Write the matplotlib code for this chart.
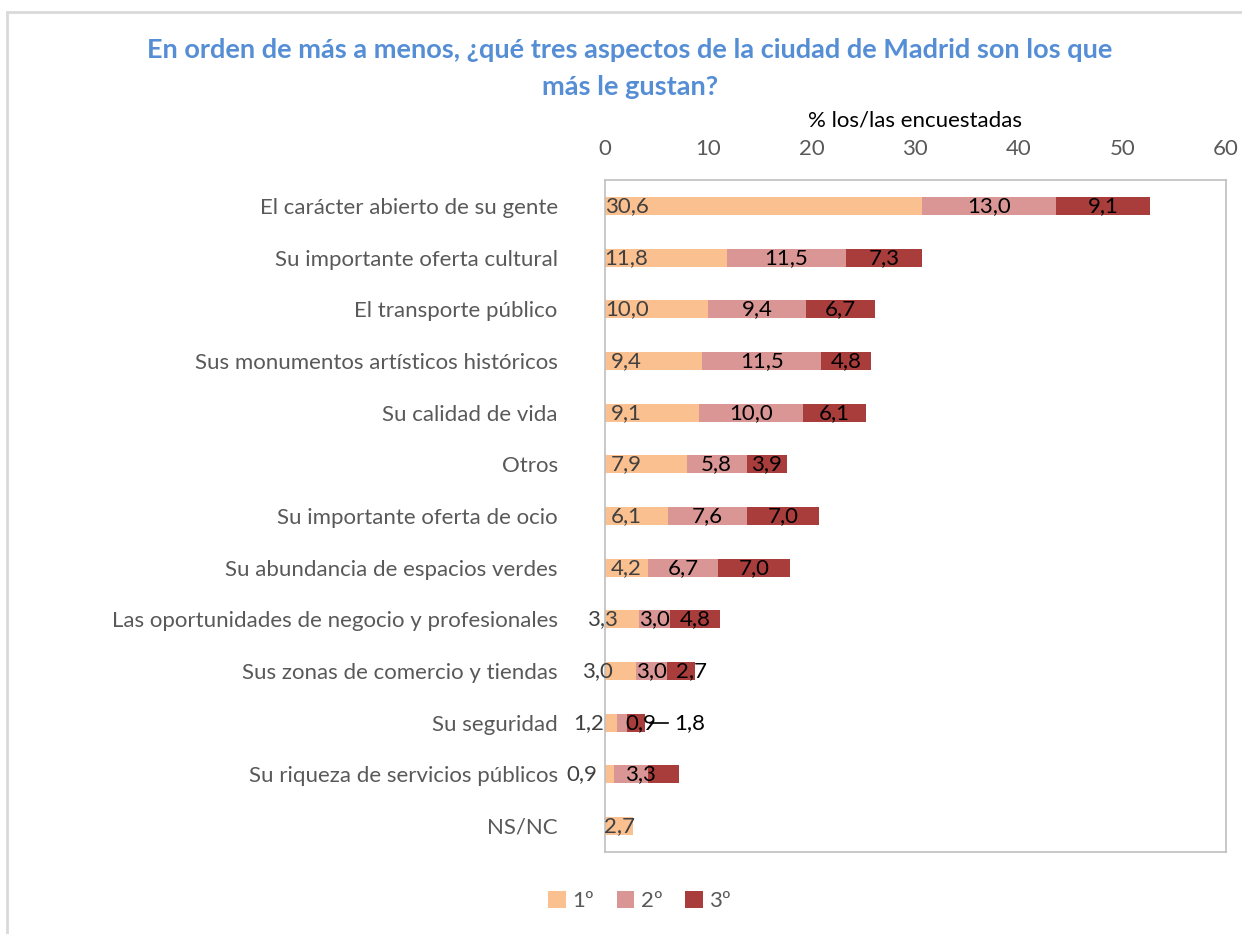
import numpy as np
import matplotlib.pyplot as plt
from matplotlib.patches import Rectangle

plt.rcParams['font.family'] = ['Lato', 'DejaVu Sans']

# Data
categories = [
    "El carácter abierto de su gente",
    "Su importante oferta cultural",
    "El transporte público",
    "Sus monumentos artísticos históricos",
    "Su calidad de vida",
    "Otros",
    "Su importante oferta de ocio",
    "Su abundancia de espacios verdes",
    "Las oportunidades de negocio y profesionales",
    "Sus zonas de comercio y tiendas",
    "Su seguridad",
    "Su riqueza de servicios públicos",
    "NS/NC",
]
first = [30.6, 11.8, 10.0, 9.4, 9.1, 7.9, 6.1, 4.2, 3.3, 3.0, 1.2, 0.9, 2.7]
second = [13.0, 11.5, 9.4, 11.5, 10.0, 5.8, 7.6, 6.7, 3.0, 3.0, 0.9, 3.3, 0.0]
third = [9.1, 7.3, 6.7, 4.8, 6.1, 3.9, 7.0, 7.0, 4.8, 2.7, 1.8, 3.0, 0.0]
series_names = ["1º", "2º", "3º"]
colors = ["#FAC090", "#D99694", "#A93D3B"]

fig = plt.figure(figsize=(12.42, 9.34), dpi=100)
ax = fig.add_axes([0.487, 0.088, 0.5, 0.719])

# outer chart frame
fig.patches.append(Rectangle((7 / 1242, -0.01), 1.1, 1 - 12 / 934 + 0.01,
                             transform=fig.transFigure, fill=False,
                             edgecolor="#D9D9D9", linewidth=2))

y = np.arange(len(categories))
first = np.array(first)
second = np.array(second)
third = np.array(third)
h = 0.35
ax.barh(y, first, height=h, color=colors[0], label=series_names[0])
ax.barh(y, second, left=first, height=h, color=colors[1], label=series_names[1])
ax.barh(y, third, left=first + second, height=h, color=colors[2], label=series_names[2])

fs = 16
fmt = lambda v: f"{v:.1f}".replace(".", ",")

# labels of first series (small ones are pushed left like in the original)
small_pos = {8: -0.2, 9: -0.7, 12: 1.45}
for i, v in enumerate(first):
    if i in (10, 11):
        ax.text(v * 2 - 2.5, y[i], fmt(v), ha="right", va="center", fontsize=fs, color="#404040")
    else:
        ax.text(small_pos.get(i, 2.1), y[i], fmt(v), ha="center", va="center",
                fontsize=fs, color="#404040")

# labels of second series
for i, v in enumerate(second):
    if v <= 0:
        continue
    cx = first[i] + v / 2
    if v < 1:
        cx = first[i] + v + 1.4
    elif i == 11:
        cx = first[i] + v / 2 + 0.85
    ax.text(cx, y[i], fmt(v), ha="center", va="center", fontsize=fs, color="black")

# labels of third series
for i, v in enumerate(third):
    if v <= 0 or i == 11:
        continue
    start = first[i] + second[i]
    if v < 2:
        ax.plot([start + 2.25, start + 4.0], [y[i], y[i]], color="black", lw=1.2)
        ax.text(start + 4.6, y[i], fmt(v), ha="left", va="center", fontsize=fs, color="black")
    elif v < 3:
        ax.text(start + v / 2 + 1.0, y[i], fmt(v), ha="center", va="center", fontsize=fs, color="black")
    else:
        ax.text(start + v / 2, y[i], fmt(v), ha="center", va="center", fontsize=fs, color="black")

ax.set_xlim(0, 60)
ax.set_ylim(len(categories) - 0.5, -0.5)
ax.set_xticks(np.arange(0, 61, 10))
ax.xaxis.tick_top()
ax.xaxis.set_label_position("top")
ax.tick_params(axis="x", length=0, pad=15, labelsize=fs, labelcolor="#595959")
ax.set_yticks(y)
ax.set_yticklabels(categories)
ax.tick_params(axis="y", length=0, pad=34, labelsize=fs, labelcolor="#595959")
ax.set_xlabel("% los/las encuestadas", fontsize=fs, color="black", labelpad=9)
for s in ax.spines.values():
    s.set_color("#BFBFBF")
    s.set_linewidth(1.2)

title_kw = dict(ha="center", va="center", fontsize=19.5, fontweight="bold", color="#558ED5")
fig.text(0.507, 1 - 50 / 934,
         "En orden de más a menos, ¿qué tres aspectos de la ciudad de Madrid son los que", **title_kw)
fig.text(0.507, 1 - 87 / 934, "más le gustan?", **title_kw)

fig.legend(loc="center", bbox_to_anchor=(0.515, 0.035), ncol=3, frameon=False,
           fontsize=fs, labelcolor="#595959", handlelength=0.8, handleheight=0.8,
           handletextpad=0.3, columnspacing=1.0)

fig.savefig("out.png", dpi=100)
